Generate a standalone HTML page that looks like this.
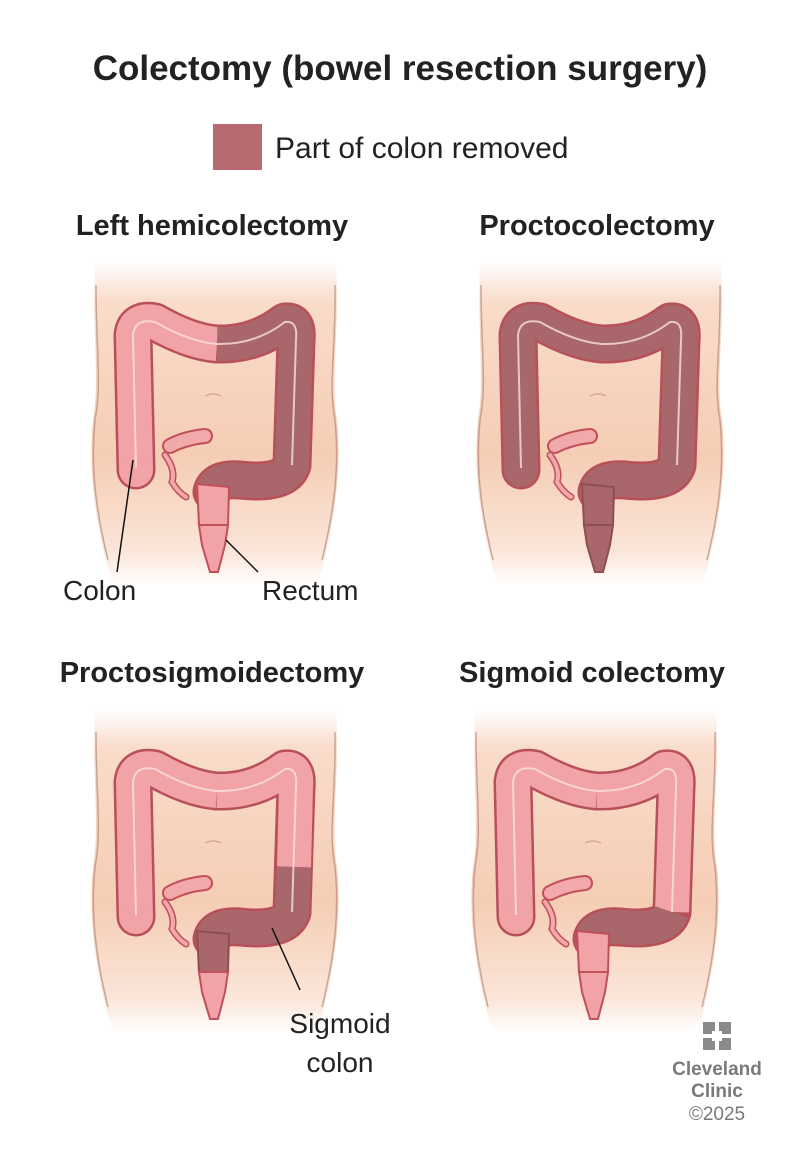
<!DOCTYPE html>
<html><head><meta charset="utf-8"><style>
html,body{margin:0;padding:0;background:#fff;width:800px;height:1156px;overflow:hidden}
svg{display:block}
text{font-family:"Liberation Sans",sans-serif;fill:#222}
</style></head><body>
<svg width="800" height="1156" viewBox="0 0 800 1156" xmlns="http://www.w3.org/2000/svg">
<defs>
<linearGradient id="skin" x1="0" y1="0" x2="0" y2="1">
<stop offset="0" stop-color="#fff"/><stop offset="0.12" stop-color="#f9dccb"/>
<stop offset="0.6" stop-color="#f5cdb4"/><stop offset="0.9" stop-color="#fbe6da"/><stop offset="1" stop-color="#fff"/>
</linearGradient>
<g id="torso">
<path d="M95,262 C92,330 100,380 93,420 C88,470 95,520 112,585 L318,585 C335,520 342,470 337,420 C330,380 340,330 336,262 Z" fill="url(#skin)"/>
<path d="M96,285 C96,350 102,385 95,420 C90,470 97,515 108,560" fill="none" stroke="#b8897a" stroke-width="1.5" opacity="0.7"/>
<path d="M335,285 C336,350 328,385 335,420 C340,470 333,515 322,560" fill="none" stroke="#b8897a" stroke-width="1.5" opacity="0.7"/>
<path d="M205,396 Q213,392 221,396" fill="none" stroke="#d9a898" stroke-width="1.5"/>
<path d="M170,446 Q185,438 205,436" fill="none" stroke="#c0505a" stroke-width="16" stroke-linecap="round"/>
<path d="M170,446 Q185,438 205,436" fill="none" stroke="#f2a9ab" stroke-width="12" stroke-linecap="round"/>
<path d="M165,455 Q176,470 172,482 Q178,492 186,497" fill="none" stroke="#c0505a" stroke-width="7" stroke-linecap="round"/>
<path d="M165,455 Q176,470 172,482 Q178,492 186,497" fill="none" stroke="#f2a9ab" stroke-width="4" stroke-linecap="round"/>
</g>
<path id="A" d="M136,470 L133,335 Q135,318 155,322 Q190,342 217,344"/>
<path id="BC" d="M217,344 Q255,345 285,322 Q298,320 296,340 L294,420"/>
<path id="BCC" d="M217,344 Q255,345 285,322 Q298,320 296,340 L292,465"/>
<path id="C2" d="M294,420 L292,465"/>
<path id="D" d="M292,465 Q285,485 240,480 Q215,478 212,492"/>
<path id="E1" d="M197,484 L229,487 L228,525 L199,525 Z"/>
<path id="E2" d="M199,525 L228,525 L225,545 L218,572 L210,572 L202,545 Z"/>
<g id="outline" fill="none" stroke="#b8505a" stroke-width="39" stroke-linecap="round" stroke-linejoin="round">
<use href="#A"/><use href="#BCC"/><use href="#D"/>
</g>
<g id="stripe" fill="none" stroke="#f6e2e0" stroke-width="2" opacity="0.8">
<path d="M136,468 L133,335 Q135,318 155,322 Q190,342 217,344 Q255,345 285,322 Q298,320 296,340 L292,465"/>
</g>
</defs>

<text x="400" y="80" font-size="35" font-weight="bold" text-anchor="middle">Colectomy (bowel resection surgery)</text>
<rect x="213" y="124" width="49" height="46" fill="#b86a70"/>
<text x="275" y="158" font-size="30">Part of colon removed</text>

<text x="212" y="235" font-size="29" font-weight="bold" text-anchor="middle">Left hemicolectomy</text>
<text x="597" y="235" font-size="29" font-weight="bold" text-anchor="middle">Proctocolectomy</text>
<text x="212" y="682" font-size="29" font-weight="bold" text-anchor="middle">Proctosigmoidectomy</text>
<text x="592" y="682" font-size="29" font-weight="bold" text-anchor="middle">Sigmoid colectomy</text>

<!-- Panel 1 -->
<g>
<use href="#torso"/><use href="#outline"/>
<g fill="none" stroke-width="34" stroke-linecap="butt" stroke-linejoin="round">
<use href="#A" stroke="#f2a3a7"/><use href="#BCC" stroke="#a9676b"/><use href="#D" stroke="#a9676b"/>
</g>
<circle cx="136" cy="470" r="17" fill="#f2a3a7"/><circle cx="292" cy="465" r="17" fill="#a9676b"/>
<use href="#E1" fill="#f2a3a7" stroke="#c0505a" stroke-width="2"/><use href="#E2" fill="#f2a3a7" stroke="#c0505a" stroke-width="2"/>
<use href="#stripe"/>
</g>
<!-- Panel 2 -->
<g transform="translate(385,0)">
<use href="#torso"/><use href="#outline"/>
<g fill="none" stroke-width="34" stroke-linecap="round" stroke-linejoin="round" stroke="#a9676b">
<use href="#A"/><use href="#BCC"/><use href="#D"/>
</g>
<use href="#E1" fill="#a9676b" stroke="#8e4e54" stroke-width="2"/><use href="#E2" fill="#a9676b" stroke="#8e4e54" stroke-width="2"/>
<use href="#stripe"/>
</g>
<!-- Panel 3 -->
<g transform="translate(0,447)">
<use href="#torso"/><use href="#outline"/>
<g fill="none" stroke-width="34" stroke-linecap="butt" stroke-linejoin="round">
<use href="#A" stroke="#f2a3a7"/><use href="#BC" stroke="#f2a3a7"/><use href="#C2" stroke="#a9676b"/><use href="#D" stroke="#a9676b"/>
</g>
<circle cx="136" cy="470" r="17" fill="#f2a3a7"/><circle cx="292" cy="465" r="17" fill="#a9676b"/>
<use href="#E1" fill="#a9676b" stroke="#8e4e54" stroke-width="2"/><use href="#E2" fill="#f2a3a7" stroke="#c0505a" stroke-width="2"/>
<use href="#stripe"/>
</g>
<!-- Panel 4 -->
<g transform="translate(380,447)">
<use href="#torso"/><use href="#outline"/>
<g fill="none" stroke-width="34" stroke-linecap="butt" stroke-linejoin="round">
<use href="#A" stroke="#f2a3a7"/><use href="#BCC" stroke="#f2a3a7"/><use href="#D" stroke="#a9676b"/>
</g>
<circle cx="136" cy="470" r="17" fill="#f2a3a7"/>
<use href="#E1" fill="#f2a3a7" stroke="#c0505a" stroke-width="2"/><use href="#E2" fill="#f2a3a7" stroke="#c0505a" stroke-width="2"/>
<use href="#stripe"/>
</g>

<!-- labels -->
<line x1="133" y1="460" x2="117" y2="572" stroke="#111" stroke-width="1.5"/>
<line x1="226" y1="540" x2="258" y2="572" stroke="#111" stroke-width="1.5"/>
<text x="63" y="600" font-size="28">Colon</text>
<text x="262" y="600" font-size="28">Rectum</text>
<line x1="272" y1="928" x2="300" y2="990" stroke="#111" stroke-width="1.5"/>
<text x="340" y="1033" font-size="28" text-anchor="middle">Sigmoid</text>
<text x="340" y="1072" font-size="28" text-anchor="middle">colon</text>

<!-- logo -->
<g fill="#8a8a8a">
<rect x="703" y="1022" width="12" height="12"/><rect x="719" y="1022" width="12" height="12"/>
<rect x="703" y="1038" width="12" height="12"/><rect x="719" y="1038" width="12" height="12"/>
</g>
<rect x="712" y="1031" width="10" height="10" fill="#fff"/>
<text x="717" y="1075" font-size="19" font-weight="bold" text-anchor="middle" style="fill:#7a7a7a">Cleveland</text>
<text x="717" y="1097" font-size="19" font-weight="bold" text-anchor="middle" style="fill:#7a7a7a">Clinic</text>
<text x="717" y="1120" font-size="19" text-anchor="middle" style="fill:#7a7a7a">©2025</text>
</svg>
</body></html>
